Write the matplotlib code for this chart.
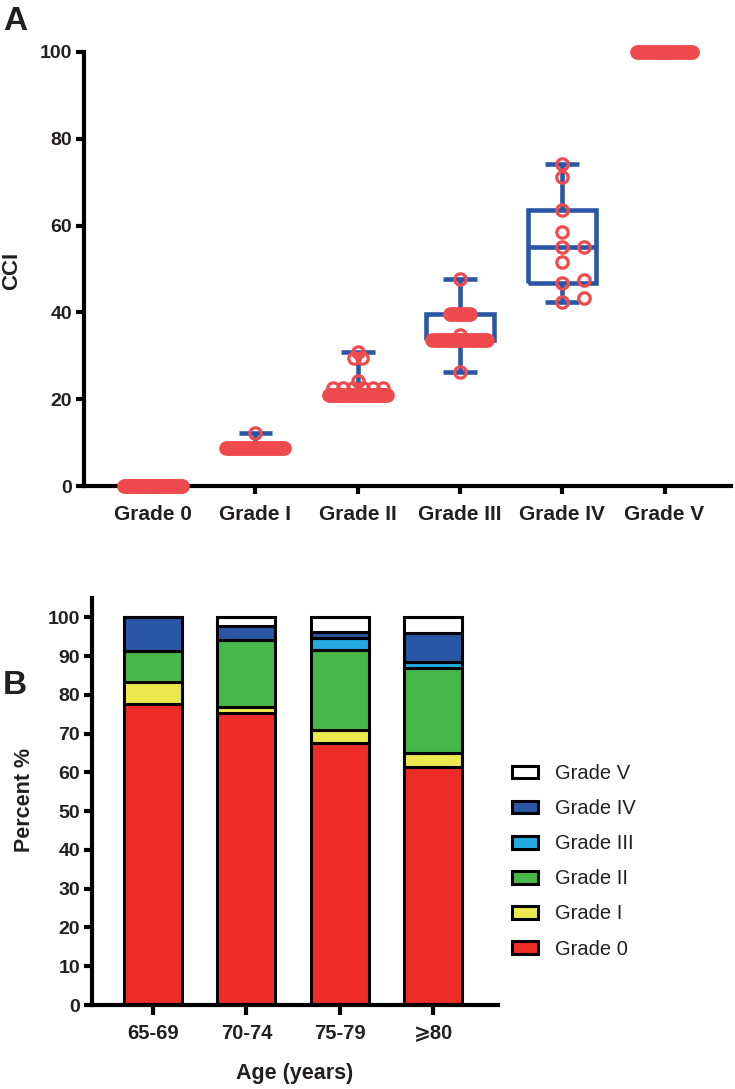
import matplotlib
matplotlib.use("Agg")
import matplotlib.pyplot as plt
from matplotlib.patches import Patch
import numpy as np

plt.rcParams['font.family'] = ['Liberation Sans', 'DejaVu Sans']

# ---- panel A data: CCI values per Clavien-Dindo grade (value, count) ----
grades = ['Grade 0', 'Grade I', 'Grade II', 'Grade III', 'Grade IV', 'Grade V']
g0_vals, g0_counts = [0.0], [40]
g1_vals, g1_counts = [8.7, 12.2], [30, 1]
g2_vals, g2_counts = [20.9, 22.6, 24.2, 29.6, 30.8], [35, 6, 1, 2, 1]
g3_vals, g3_counts = [26.2, 33.7, 34.8, 39.7, 47.7], [1, 26, 1, 10, 1]
g4_vals = [42.4, 43.3, 46.8, 47.4, 51.7, 55.0, 55.0, 58.6, 63.6, 71.1, 74.2]
g5_vals, g5_counts = [100.0], [26]

# ---- panel B data: percent of each grade per age group ----
age_groups = ['65-69', '70-74', '75-79', '⩾80']
pct_g0 = [77.7, 75.3, 67.7, 61.3]
pct_g1 = [5.7, 1.7, 3.3, 3.6]
pct_g2 = [8.0, 17.2, 20.6, 22.0]
pct_g3 = [0.0, 0.0, 3.2, 1.7]
pct_g4 = [8.6, 3.6, 1.5, 7.3]
pct_g5 = [0.0, 2.2, 3.7, 4.1]

RED = '#EF4B4E'
BLUE = '#2A56A6'
TXT = '#231F20'

groups = [np.repeat(g0_vals, g0_counts), np.repeat(g1_vals, g1_counts),
          np.repeat(g2_vals, g2_counts), np.repeat(g3_vals, g3_counts),
          np.array(g4_vals), np.repeat(g5_vals, g5_counts)]

fig = plt.figure(figsize=(7.35, 10.89), dpi=100)

# ================= panel A =================
axA = fig.add_axes([84/735, 1-486/1089, (731-84)/735, (486-52)/1089])
xlimA = (-0.676, 5.65)
axA.set_xlim(*xlimA)
axA.set_ylim(0, 100)
px_x = (xlimA[1]-xlimA[0]) / 647.0    # data units per pixel, x
px_y = 100 / 434.0                    # data units per pixel, y

stats = []
for v in groups:
    q1, med, q3 = np.percentile(v, [25, 50, 75], method='weibull')
    stats.append(dict(med=med, q1=q1, q3=q3, whislo=v.min(), whishi=v.max(), fliers=[]))
lineprops = dict(color=BLUE, linewidth=3.3, solid_capstyle='butt', solid_joinstyle='miter')
axA.bxp(stats, positions=range(6), widths=0.66, capwidths=0.33, showfliers=False,
        boxprops=lineprops, whiskerprops=lineprops, capprops=lineprops,
        medianprops=lineprops, manage_ticks=False, zorder=2)


def column_offsets(vals):
    # column-scatter layout: repeated values spread sideways (max width capped)
    vals = np.asarray(vals)
    xs = np.zeros(len(vals))
    placed = []
    uniq, counts = np.unique(vals, return_counts=True)
    for u, n in zip(uniq, counts):
        idx = np.where(vals == u)[0]
        if n > 6:
            half = min(29, (n-1)*2.2/2)
            xs[idx] = np.linspace(-half, half, n)
            continue
        if n >= 3 or (n == 2 and u == 29.6):
            half = (n-1)*(10 if n > 2 else 8)/2
            xs[idx] = np.linspace(-half, half, n)
            continue
        for k, j in enumerate(idx):
            for cand in ([0, 22, -22] if k == 0 else [22, -22, 0]):
                if all(np.hypot(cand-px, (u-py)/px_y) >= 13 for px, py in placed):
                    break
            xs[j] = cand
            placed.append((cand, u))
    return xs * px_x


for i, v in enumerate(groups):
    axA.plot(i + column_offsets(v), v, 'o', ms=8.2, mfc='none', mec=RED, mew=2.3,
             linestyle='none', clip_on=False, zorder=3)

for s in ['top', 'right']:
    axA.spines[s].set_visible(False)
for s in ['left', 'bottom']:
    axA.spines[s].set_linewidth(3)
axA.set_xticks(range(6))
axA.set_xticklabels(grades)
axA.set_yticks(range(0, 101, 20))
axA.tick_params(axis='y', length=5.5, width=3, pad=3, labelsize=14, labelcolor=TXT)
axA.tick_params(axis='x', length=5.5, width=3, pad=8.5, labelsize=15, labelcolor=TXT)
for lab in axA.get_xticklabels() + axA.get_yticklabels():
    lab.set_fontweight('bold')
fig.text(12/735, 1-271/1089, 'CCI', rotation=90, ha='center', va='center',
         fontsize=16, fontweight='semibold', color=TXT)
fig.text(3/735, 1-6/1089, 'A', ha='left', va='top', fontsize=24, fontweight='bold', color=TXT)

# ================= panel B =================
axB = fig.add_axes([92/735, 1-1005/1089, (498-92)/735, (1005-598)/1089])
axB.set_xlim(-0.65, 3.69)
axB.set_ylim(0, 105)
x = np.arange(len(age_groups))
series = [pct_g0, pct_g1, pct_g2, pct_g3, pct_g4, pct_g5]
colors = ['#EE2D29', '#ECE94E', '#46B749', '#24A9E1', '#2A56A6', '#FFFFFF']
labels = ['Grade 0', 'Grade I', 'Grade II', 'Grade III', 'Grade IV', 'Grade V']
bottom = np.zeros(len(age_groups))
for vals, c, lab in zip(series, colors, labels):
    axB.bar(x, vals, 0.62, bottom=bottom, color=c, edgecolor='black', linewidth=2.2, label=lab, zorder=2)
    bottom += np.array(vals)

for s in ['top', 'right']:
    axB.spines[s].set_visible(False)
for s in ['left', 'bottom']:
    axB.spines[s].set_linewidth(3)
axB.set_xticks(x)
axB.set_xticklabels(age_groups)
axB.set_yticks(range(0, 101, 10))
axB.tick_params(axis='y', length=5.5, width=3, pad=3, labelsize=14, labelcolor=TXT)
axB.tick_params(axis='x', length=7.5, width=3, pad=6, labelsize=14.5, labelcolor=TXT)
for lab in axB.get_xticklabels() + axB.get_yticklabels():
    lab.set_fontweight('bold')
fig.text(25/735, 1-800/1089, 'Percent %', rotation=90, ha='center', va='center',
         fontsize=15.5, fontweight='bold', color=TXT)
fig.text(295/735, 1-1074/1089, 'Age (years)', ha='center', va='center',
         fontsize=15.5, fontweight='bold', color=TXT)
fig.text(3/735, 1-670/1089, 'B', ha='left', va='top', fontsize=24, fontweight='bold', color=TXT)

handles = [Patch(facecolor=c, edgecolor='black', linewidth=2.2, label=l) for c, l in zip(colors, labels)]
fig.legend(handles[::-1], labels[::-1], loc='upper left', bbox_to_anchor=(512/735, 1-764/1089),
           frameon=False, fontsize=14.5, borderpad=0, borderaxespad=0, handlelength=1.3,
           handleheight=0.6, handletextpad=0.85, labelspacing=0.8, labelcolor=TXT)

fig.savefig('out.png', dpi=100)
